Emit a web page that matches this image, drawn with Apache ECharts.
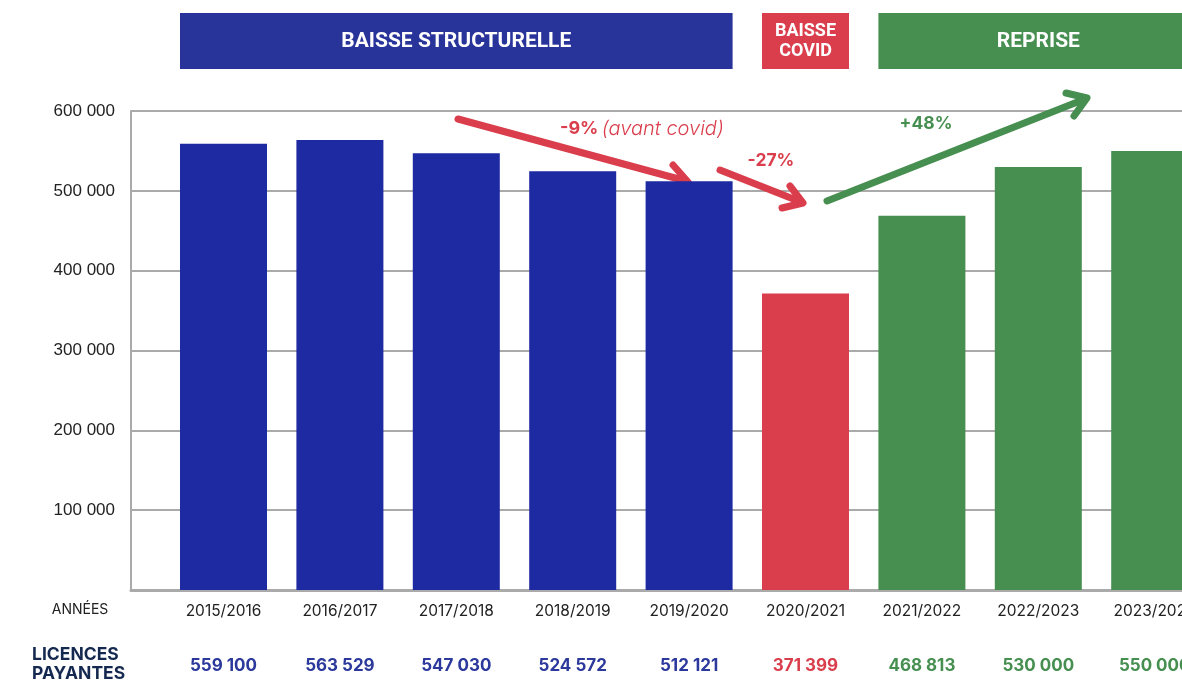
<!DOCTYPE html>
<html>
<head>
<meta charset="utf-8">
<script src="https://cdn.jsdelivr.net/npm/echarts@6/dist/echarts.min.js"></script>
<style>
html, body { margin: 0; padding: 0; background: #fff; }
#chart { width: 1182px; height: 684px; }
</style>
</head>
<body>
<div id="chart"></div>
<script>
// data
var years = ['2015/2016', '2016/2017', '2017/2018', '2018/2019', '2019/2020', '2020/2021', '2021/2022', '2022/2023', '2023/2024'];
var licences = [559100, 563529, 547030, 524572, 512121, 371399, 468813, 530000, 550000];
var phases = ['baisse', 'baisse', 'baisse', 'baisse', 'baisse', 'covid', 'reprise', 'reprise', 'reprise'];
var phaseTitles = { baisse: 'BAISSE STRUCTURELLE', covid: 'BAISSE\nCOVID', reprise: 'REPRISE' };
var yMin = 0, yMax = 600000, yStep = 100000;

var barColors = { baisse: '#1e2aa1', covid: '#da3d4b', reprise: '#468f50' };
var bannerColors = { baisse: '#29349a', covid: '#da3d4b', reprise: '#468f50' };
var valueColors = { baisse: '#2b389c', covid: '#da3d4b', reprise: '#468f50' };

function fmt(v) {
    return String(v).replace(/\B(?=(\d{3})+(?!\d))/g, ' ');
}

var catWidth = 116.4;
var barW = 87;

var rich = {
    y: { fontFamily: 'Inter', fontSize: 15.5, color: '#222', lineHeight: 22 }
};
Object.keys(valueColors).forEach(function (k) {
    rich[k] = { fontFamily: 'Inter', fontWeight: 'bold', fontSize: 17, color: valueColors[k], lineHeight: 87 };
});

var chart = echarts.init(document.getElementById('chart'));
var option = {
    animation: false,
    grid: [
        { left: 131, right: 0, top: 111, bottom: 94, outerBoundsMode: 'none' },
        { left: 165.3, width: catWidth * years.length, top: 111, bottom: 94, outerBoundsMode: 'none' }
    ],
    xAxis: [
        {
            gridIndex: 0, type: 'category', data: [''],
            axisLine: { lineStyle: { color: '#aaa', width: 3 } },
            axisTick: { show: false }, axisLabel: { show: false }
        },
        {
            gridIndex: 1, type: 'category', data: years,
            axisLine: { show: false }, axisTick: { show: false },
            axisLabel: {
                margin: 10, interval: 0, verticalAlign: 'top',
                formatter: function (value, idx) {
                    return '{y|' + value + '}\n{' + phases[idx] + '|' + fmt(licences[idx]) + '}';
                },
                rich: rich
            }
        }
    ],
    yAxis: [
        {
            gridIndex: 0, type: 'value', min: yMin, max: yMax, interval: yStep,
            axisLine: { show: true, lineStyle: { color: '#aaa', width: 2 } },
            axisTick: { show: false },
            splitLine: { lineStyle: { color: '#aaa', width: 2 } },
            axisLabel: {
                margin: 16, fontFamily: 'Liberation Sans', fontSize: 17, color: '#222',
                formatter: function (v) { return v === 0 ? '' : fmt(v); }
            }
        },
        {
            gridIndex: 1, type: 'value', min: yMin, max: yMax, interval: yStep,
            axisLine: { show: false }, axisTick: { show: false },
            splitLine: { show: false }, axisLabel: { show: false }
        }
    ],
    series: [{
        type: 'bar', xAxisIndex: 1, yAxisIndex: 1, barWidth: barW,
        data: licences.map(function (v, i) {
            return { value: v, itemStyle: { color: barColors[phases[i]] } };
        })
    }]
};
chart.setOption(option);

// banners above the phases, placed from the bar positions
var graphics = [];
var runs = [];
phases.forEach(function (p, i) {
    if (runs.length && runs[runs.length - 1].p === p) runs[runs.length - 1].end = i;
    else runs.push({ p: p, start: i, end: i });
});
runs.forEach(function (r) {
    var x0 = chart.convertToPixel({ xAxisIndex: 1 }, r.start) - barW / 2;
    var x1 = chart.convertToPixel({ xAxisIndex: 1 }, r.end) + barW / 2;
    var two = phaseTitles[r.p].indexOf('\n') >= 0;
    graphics.push({
        type: 'rect', shape: { x: x0, y: 13, width: x1 - x0, height: 56 },
        style: { fill: bannerColors[r.p] }
    });
    graphics.push({
        type: 'text', x: (x0 + x1) / 2, y: 41.5,
        style: {
            text: phaseTitles[r.p], fill: '#fff', align: 'center', verticalAlign: 'middle',
            fontFamily: 'Roboto', fontWeight: 'bold', fontSize: two ? 18 : 21, lineHeight: 20
        }
    });
});

// row titles
graphics.push({
    type: 'text', x: 80, y: 610,
    style: { text: 'ANNÉES', fill: '#222', align: 'center', verticalAlign: 'middle', fontFamily: 'Inter', fontSize: 14 }
});
graphics.push({
    type: 'text', x: 32, y: 664,
    style: { text: 'LICENCES\nPAYANTES', fill: '#15284f', align: 'left', verticalAlign: 'middle',
        fontFamily: 'Inter', fontWeight: 'bold', fontSize: 17.5, lineHeight: 19 }
});

// trend arrows
function arrow(line, head, color) {
    var st = { stroke: color, lineWidth: 7, lineCap: 'round', lineJoin: 'round', fill: null };
    graphics.push({ type: 'polyline', shape: { points: line }, style: st });
    graphics.push({ type: 'polyline', shape: { points: head }, style: st });
}
arrow([[458, 119], [686, 181]], [[673, 165], [688, 182], [667, 190]], '#da3d4b');
arrow([[720, 170], [801, 202]], [[790, 186], [803, 203], [782, 208]], '#da3d4b');
arrow([[827, 201], [1085, 99]], [[1066, 93], [1087, 98], [1074, 116]], '#468f50');

graphics.push({
    type: 'text', x: 560, y: 129,
    style: {
        text: '{b|-9%} {i|(avant covid)}', verticalAlign: 'middle',
        rich: {
            b: { fontFamily: 'Inter', fontWeight: 'bold', fontSize: 18, fill: '#da3d4b' },
            i: { fontFamily: 'Inter', fontStyle: 'italic', fontWeight: 300, fontSize: 20, fill: '#da3d4b' }
        }
    }
});
graphics.push({
    type: 'text', x: 771, y: 161,
    style: { text: '-27%', fill: '#da3d4b', align: 'center', verticalAlign: 'middle',
        fontFamily: 'Inter', fontWeight: 'bold', fontSize: 17.5 }
});
graphics.push({
    type: 'text', x: 926, y: 124,
    style: { text: '+48%', fill: '#468f50', align: 'center', verticalAlign: 'middle',
        fontFamily: 'Inter', fontWeight: 'bold', fontSize: 17.5 }
});

chart.setOption({ graphic: graphics });
</script>
</body>
</html>
